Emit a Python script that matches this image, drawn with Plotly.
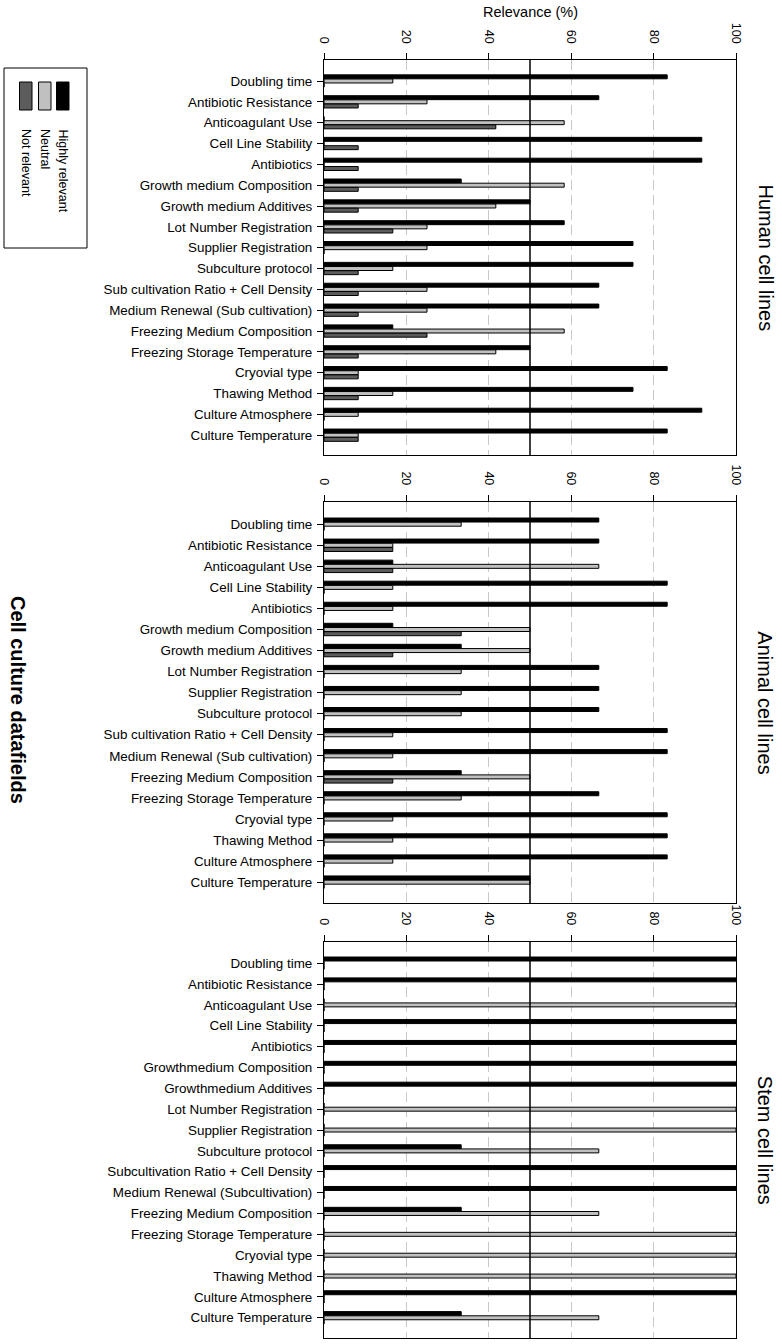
import plotly.graph_objects as go

# ---------------- data ----------------
human_cats = ["Doubling time", "Antibiotic Resistance", "Anticoagulant Use", "Cell Line Stability",
              "Antibiotics", "Growth medium Composition", "Growth medium Additives",
              "Lot Number Registration", "Supplier Registration", "Subculture protocol",
              "Sub cultivation Ratio + Cell Density", "Medium Renewal (Sub cultivation)",
              "Freezing Medium Composition", "Freezing Storage Temperature", "Cryovial type",
              "Thawing Method", "Culture Atmosphere", "Culture Temperature"]
human_high = [83.3, 66.7, 0, 91.7, 91.7, 33.3, 50, 58.3, 75, 75, 66.7, 66.7, 16.7, 50, 83.3, 75, 91.7, 83.3]
human_neutral = [16.7, 25, 58.3, 0, 0, 58.3, 41.7, 25, 25, 16.7, 25, 25, 58.3, 41.7, 8.3, 16.7, 8.3, 8.3]
human_not = [0, 8.3, 41.7, 8.3, 8.3, 8.3, 8.3, 16.7, 0, 8.3, 8.3, 8.3, 25, 8.3, 8.3, 8.3, 0, 8.3]

animal_cats = list(human_cats)
animal_high = [66.7, 66.7, 16.7, 83.3, 83.3, 16.7, 33.3, 66.7, 66.7, 66.7, 83.3, 83.3, 33.3, 66.7, 83.3, 83.3, 83.3, 50]
animal_neutral = [33.3, 16.7, 66.7, 16.7, 16.7, 50, 50, 33.3, 33.3, 33.3, 16.7, 16.7, 50, 33.3, 16.7, 16.7, 16.7, 50]
animal_not = [0, 16.7, 16.7, 0, 0, 33.3, 16.7, 0, 0, 0, 0, 0, 16.7, 0, 0, 0, 0, 0]

stem_cats = ["Doubling time", "Antibiotic Resistance", "Anticoagulant Use", "Cell Line Stability",
             "Antibiotics", "Growthmedium Composition", "Growthmedium Additives",
             "Lot Number Registration", "Supplier Registration", "Subculture protocol",
             "Subcultivation Ratio + Cell Density", "Medium Renewal (Subcultivation)",
             "Freezing Medium Composition", "Freezing Storage Temperature", "Cryovial type",
             "Thawing Method", "Culture Atmosphere", "Culture Temperature"]
stem_high = [100, 100, 0, 100, 100, 100, 100, 0, 0, 33.3, 100, 100, 33.3, 0, 0, 0, 100, 33.3]
stem_neutral = [0, 0, 100, 0, 0, 0, 0, 100, 100, 66.7, 0, 0, 66.7, 100, 100, 100, 0, 66.7]
stem_not = [0] * 18

panel_titles = ["Human cell lines", "Animal cell lines", "Stem cell lines"]
series_names = ["Highly relevant", "Neutral", "Not relevant"]
series_colors = ["#000000", "#c0c0c0", "#5c5c5c"]
x_ticks = [0, 20, 40, 60, 80, 100]

# ---------------- layout geometry (screen pixels) ----------------
W, H = 782, 1344


def px(sx):
    return sx / W


def py(sy):
    return 1 - sy / H


X0, X1 = 324, 736
panels_px = [(60, 455), (501.7, 903), (941.7, 1338)]
yranges = [(17.95, -1.008), (17.99, -1.07), (17.97, -1.03)]

FONT = "Liberation Sans, Arial, sans-serif"

panels = [
    (human_cats, [human_high, human_neutral, human_not]),
    (animal_cats, [animal_high, animal_neutral, animal_not]),
    (stem_cats, [stem_high, stem_neutral, stem_not]),
]

fig = go.Figure()
layout = dict(
    width=W, height=H,
    margin=dict(l=0, r=0, t=0, b=0, pad=0, autoexpand=False),
    paper_bgcolor="white", plot_bgcolor="white",
    barmode="group", bargap=0.4, bargroupgap=0.05,
    showlegend=False,
    font=dict(family=FONT, color="black"),
)

shapes = []
annotations = []

for i, (cats, vals) in enumerate(panels):
    n = i + 1
    xa = "x" if n == 1 else f"x{n}"
    ya = "y" if n == 1 else f"y{n}"
    for s in range(3):
        fig.add_trace(go.Bar(
            x=vals[s], y=cats, orientation="h", name=series_names[s],
            marker=dict(color=series_colors[s], line=dict(color="black", width=1)),
            xaxis=xa, yaxis=ya, showlegend=False,
        ))
    top, bot = panels_px[i]
    layout[f"xaxis{'' if n == 1 else n}"] = dict(
        domain=[px(X0), px(X1)], range=[0, 100], anchor=ya, side="top",
        tickvals=x_ticks, ticktext=[str(t) for t in x_ticks], tickangle=90,
        ticks="outside", ticklen=6, tickcolor="black", tickwidth=1,
        tickfont=dict(size=12.5, family=FONT, color="black"),
        ticklabelstandoff=5, automargin=False,
        showline=True, linecolor="black", linewidth=1, mirror=True,
        showgrid=True, gridcolor="#c8c8c8", gridwidth=1, griddash="10px,5px",
        zeroline=False, fixedrange=True,
    )
    layout[f"yaxis{'' if n == 1 else n}"] = dict(
        domain=[py(bot), py(top)], anchor=xa,
        type="category", categoryorder="array", categoryarray=cats,
        range=list(yranges[i]), automargin=False,
        ticks="outside", ticklen=6, tickcolor="black", tickwidth=1,
        tickfont=dict(size=13.4, family=FONT, color="black"),
        ticklabelstandoff=2,
        showline=True, linecolor="black", linewidth=1, mirror=True,
        showgrid=False, zeroline=False, fixedrange=True,
    )
    # reference line at 50 %
    shapes.append(dict(type="line", xref=xa, yref=f"{ya} domain", x0=50, x1=50, y0=0, y1=1,
                       line=dict(color="black", width=1.5), layer="above"))
    # panel title on the right
    annotations.append(dict(text=panel_titles[i], x=px(765), y=py((top + bot) / 2),
                            xref="paper", yref="paper", showarrow=False, textangle=90,
                            font=dict(size=20, family=FONT, color="black"),
                            xanchor="center", yanchor="middle"))

# axis title on top
annotations.append(dict(text="Relevance (%)", x=px(530), y=py(12), xref="paper", yref="paper",
                        showarrow=False, font=dict(size=14.5, family=FONT, color="black"),
                        xanchor="center", yanchor="middle"))
# left title
annotations.append(dict(text="<b>Cell culture datafields</b>", x=px(18), y=py(700),
                        xref="paper", yref="paper", showarrow=False, textangle=90,
                        font=dict(size=20, family=FONT, color="black"),
                        xanchor="center", yanchor="middle"))

# legend (rotated) drawn manually
shapes.append(dict(type="rect", xref="paper", yref="paper", x0=px(4), x1=px(87),
                   y0=py(248), y1=py(68), line=dict(color="black", width=1),
                   fillcolor="white", layer="above"))
legend_x = [63, 45, 26]  # text column centres for Highly relevant, Neutral, Not relevant
for s in range(3):
    cx = legend_x[s]
    shapes.append(dict(type="rect", xref="paper", yref="paper",
                       x0=px(cx - 6.5), x1=px(cx + 6), y0=py(110), y1=py(82),
                       line=dict(color="black", width=1), fillcolor=series_colors[s],
                       layer="above"))
    annotations.append(dict(text=series_names[s], x=px(cx), y=py(127), xref="paper", yref="paper",
                            showarrow=False, textangle=90, xanchor="center", yanchor="top",
                            font=dict(size=12.5, family=FONT, color="black")))

layout["shapes"] = shapes
layout["annotations"] = annotations
fig.update_layout(**layout)

fig.write_html("out.html",
               config={"displayModeBar": False},
               post_script="document.body.style.margin='0';document.body.style.padding='0';")
